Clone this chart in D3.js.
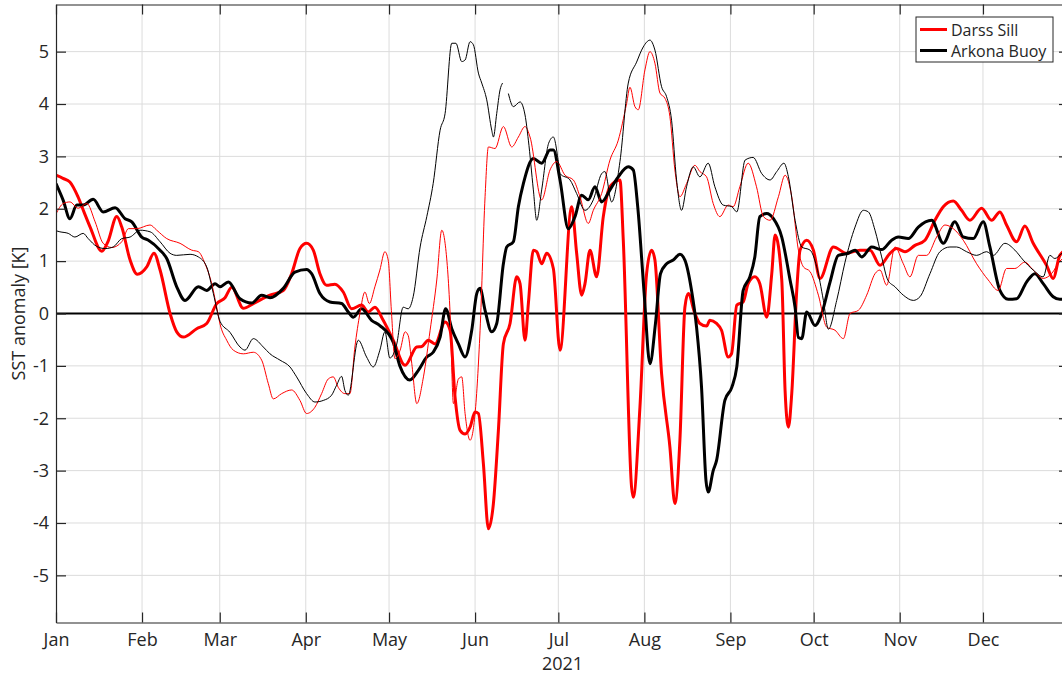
<!DOCTYPE html>
<html>
<head>
<meta charset="utf-8">
<script src="https://cdn.jsdelivr.net/npm/d3@7"></script>
<style>
  body { margin: 0; background: #fff; }
  svg { display: block; font-family: "Open Sans", sans-serif; }
</style>
</head>
<body>
<div class="d3"></div>
<script>
// [day of 2021, SST anomaly in K]
var darssSill = [[0,2.64],[2.5,2.58],[5,2.51],[7.9,2.23],[10,1.95],[12.3,1.65],[16.5,1.19],[18.7,1.37],[21.9,1.85],[23.7,1.65],[26.7,1.02],[29.3,0.75],[32.7,0.89],[35.3,1.15],[37.5,0.83],[41.1,0.0],[43.5,-0.35],[45.9,-0.45],[50.7,-0.29],[54.3,-0.19],[57.9,0.19],[60.9,0.30],[63.3,0.50],[67.5,0.10],[71.1,0.19],[77.1,0.35],[81.9,0.44],[84.9,0.76],[87.9,1.24],[90.3,1.34],[92.7,1.21],[95.1,0.76],[97.5,0.54],[100.5,0.56],[103.5,0.41],[106.5,0.09],[110.1,0.16],[112.5,0.03],[114.9,0.12],[117.9,-0.13],[121.5,-0.51],[125.8,-0.99],[130,-0.64],[131.8,-0.63],[134.1,-0.51],[136.6,-0.58],[140.2,-0.16],[142,-0.32],[143.8,-1.60],[145.6,-2.23],[147.4,-2.30],[149.2,-2.17],[151,-1.88],[152.2,-1.91],[154,-2.87],[155.8,-4.11],[157.6,-3.63],[159.4,-2.23],[161.2,-0.58],[163.6,-0.19],[166,0.70],[167.2,0.57],[169,-0.51],[170.2,0.19],[172,1.21],[173.2,1.18],[175,0.95],[176.8,1.15],[179.2,0.86],[181.6,-0.70],[185.8,2.04],[187.6,1.15],[189.4,0.35],[190.6,0.57],[192.4,1.21],[194.8,0.70],[197.2,1.85],[199.6,2.42],[203.2,2.55],[204.4,1.40],[207.4,-3.32],[208,-3.51],[210.4,-1.79],[212.8,0.76],[214.6,1.21],[215.8,1.02],[218.2,-1.15],[221.2,-2.55],[223,-3.63],[224.8,-2.42],[226.6,0.12],[227.8,0.38],[230.2,0.0],[232,-0.19],[234.4,-0.24],[235.6,-0.13],[238,-0.19],[239.8,-0.32],[242.2,-0.83],[243.4,-0.77],[245.3,0.16],[247.6,0.22],[249.4,0.57],[251.8,0.70],[253.6,0.57],[256.1,-0.07],[257.9,0.76],[259.1,1.50],[261.5,0.64],[262.7,-1.47],[263.9,-2.17],[265.1,-1.53],[266.9,0.44],[268.1,1.21],[270.5,1.40],[272.9,1.21],[275.3,0.67],[280.1,1.27],[284.9,1.15],[289.7,1.21],[293.3,1.21],[296.9,0.92],[300.5,1.15],[302.9,1.24],[305.9,1.18],[309.5,1.30],[313.1,1.40],[316.7,1.78],[319.7,2.04],[323.3,2.15],[326.3,1.97],[329.3,1.78],[333.5,2.01],[337.1,1.78],[340.1,1.94],[342.5,1.69],[346.1,1.37],[349.1,1.67],[352.1,1.34],[356.9,0.92],[359.3,0.67],[361.7,1.11],[365,1.25]];

var arkonaBuoy = [[0,2.48],[2.6,2.16],[5,1.81],[7.5,2.07],[9.8,2.07],[13.4,2.18],[17,1.94],[21.3,2.02],[24.9,1.81],[27.3,1.75],[30.9,1.46],[33.3,1.40],[37.5,1.21],[39.9,1.05],[43.5,0.51],[46.5,0.25],[51.3,0.51],[54.3,0.44],[57.3,0.57],[59.1,0.51],[62.1,0.60],[66.3,0.28],[70.5,0.20],[74.1,0.35],[77.1,0.30],[81.9,0.48],[86.1,0.79],[90.3,0.84],[92.1,0.76],[95.1,0.38],[98.7,0.22],[102.9,0.19],[105.3,0.03],[107.1,-0.07],[110.1,0.09],[113.7,-0.13],[116.7,-0.23],[121.5,-0.55],[123.9,-1.0],[127.5,-1.27],[130.5,-1.09],[133.6,-0.83],[135.9,-0.74],[138.4,-0.45],[140.4,0.09],[142.6,-0.29],[145,-0.58],[147.4,-0.83],[149.8,-0.32],[151.6,0.38],[152.8,0.48],[154.6,0.06],[157,-0.35],[158.8,-0.19],[161.2,0.95],[162.4,1.27],[164.8,1.37],[166.6,2.04],[168.4,2.48],[172,2.96],[175,2.87],[178,3.12],[179.2,3.12],[181.6,2.55],[184.6,1.62],[187,1.85],[189.4,2.26],[191.8,2.17],[194.2,2.42],[196.6,2.13],[199.6,2.36],[202.6,2.61],[206.2,2.80],[208,2.74],[209.6,2.04],[211.9,0.40],[214,-0.96],[216,-0.19],[217.8,0.76],[220,0.95],[222.4,1.02],[224.8,1.13],[226.6,1.02],[229,0.44],[230.8,-0.26],[232.6,-1.41],[234.2,-3.19],[235,-3.41],[236.8,-3.00],[238,-2.81],[241,-1.66],[243.5,-1.41],[245.3,-1.02],[247.6,0.44],[250,0.70],[251.8,1.08],[253.6,1.85],[256.1,1.91],[258.5,1.81],[261.5,1.46],[264.5,0.64],[266.3,0.12],[267.5,-0.46],[268.7,-0.48],[270.5,0.03],[273.5,-0.23],[275.9,0.0],[278.9,0.60],[281.9,1.11],[285.5,1.15],[287.9,1.21],[290.3,1.08],[293.9,1.27],[297.5,1.22],[301.1,1.40],[303.5,1.46],[307.1,1.43],[310.7,1.65],[315.5,1.78],[319.7,1.34],[323.9,1.75],[326.9,1.46],[330.5,1.43],[334.1,1.75],[336.5,1.27],[340.1,0.44],[343.1,0.27],[346.1,0.28],[349.7,0.60],[352.7,0.76],[355.7,0.57],[359.3,0.32],[361.7,0.27],[365,0.3]];

var darssThin = [[0,1.90],[2.6,2.10],[5,2.13],[8,2.01],[11.1,2.10],[14.1,1.75],[17,1.34],[20.1,1.26],[23.7,1.37],[26.1,1.62],[29.1,1.62],[33.9,1.69],[36.3,1.59],[39.9,1.43],[44.7,1.34],[48.9,1.21],[51.3,1.18],[53.7,0.95],[56.1,0.57],[57.9,0.12],[59.1,-0.2],[61.5,-0.51],[63.9,-0.70],[67.5,-0.77],[71.1,-0.74],[74.1,-0.89],[76.5,-1.34],[78.3,-1.63],[81.3,-1.53],[84.9,-1.46],[87.9,-1.66],[90.3,-1.91],[93.3,-1.79],[95.7,-1.53],[98.1,-1.25],[99.9,-1.21],[101.7,-1.41],[104.1,-1.53],[105.9,-1.53],[107.7,-0.64],[109.5,0.0],[111.3,0.41],[112.9,0.19],[114.9,0.51],[116.7,0.83],[118.5,1.18],[119.7,1.02],[120.9,0.0],[122.1,-0.86],[124,-0.70],[125.8,-0.35],[126.9,-0.42],[128.2,-0.96],[130,-1.72],[132.4,-1.21],[134.8,-0.32],[137.2,0.64],[139,1.59],[140.2,1.34],[142,0.0],[143.2,-1.72],[145,-1.25],[146.2,-1.21],[147.4,-1.91],[149.2,-2.42],[151,-1.91],[152.8,-0.32],[154.6,2.23],[155.8,3.18],[158.2,3.15],[161.2,3.57],[164.2,3.18],[166.6,3.37],[169,3.57],[170.8,3.37],[175,2.17],[178,2.74],[180.4,2.90],[183.4,2.64],[186.4,2.55],[188.8,2.23],[191.8,1.72],[193.6,1.97],[196.6,2.29],[199.6,2.93],[202.6,3.31],[205.6,4.01],[206.8,4.32],[208.6,3.95],[209.8,3.89],[212.2,4.65],[214,5.00],[215.8,4.78],[217.6,4.21],[219.4,4.11],[221.2,3.76],[223,2.74],[224.8,2.23],[227.2,2.48],[230.2,2.83],[232,2.71],[234.4,2.61],[236.8,2.10],[239.2,1.85],[242.2,2.07],[244,2.04],[246.4,2.42],[249.4,2.87],[252.4,2.42],[254.9,1.85],[257.3,1.78],[260.3,2.23],[262.7,2.64],[265.1,2.23],[267.5,1.21],[269.3,0.89],[271.7,0.80],[274.7,0.35],[277.7,-0.26],[280.7,-0.32],[283.7,-0.48],[286.1,0.0],[289.1,0.06],[292.1,0.35],[295.1,0.76],[296.9,0.83],[299.3,0.54],[302.3,1.27],[305.3,0.95],[307.7,0.70],[310.7,1.11],[313.7,1.11],[317.3,1.46],[320.3,1.69],[323.3,1.62],[326.9,1.40],[331.7,0.95],[335.9,0.64],[339.5,0.44],[342.5,0.86],[345.5,0.86],[349.1,0.98],[352.1,0.83],[355.7,0.67],[358.7,0.76],[361.7,1.0],[365,1.1]];

// null = missing data
var arkonaThin = [[0,1.58],[1.4,1.56],[4.4,1.53],[6.8,1.46],[9.8,1.53],[11.6,1.43],[14.7,1.28],[17.7,1.24],[20.6,1.27],[23.7,1.43],[26.7,1.46],[30.3,1.59],[33.9,1.56],[37.5,1.37],[41.1,1.15],[43.5,1.11],[48.3,1.13],[51.3,1.08],[54.3,0.89],[56.7,0.38],[59.1,-0.15],[62.7,-0.36],[66.3,-0.64],[68.1,-0.70],[71.1,-0.48],[74.7,-0.64],[77.1,-0.77],[80.7,-0.89],[84.3,-1.02],[86.7,-1.21],[90.3,-1.53],[93.3,-1.69],[96.3,-1.66],[99.3,-1.56],[101.1,-1.37],[102.9,-1.20],[104.1,-1.47],[105.3,-1.56],[108.9,-0.51],[111.9,-0.83],[114.3,-1.02],[116.7,-0.70],[118.5,-0.35],[120.3,-0.85],[122.7,-0.6],[125.1,0.12],[126.9,0.09],[128.7,0.32],[131.2,1.27],[133.6,1.85],[135.9,2.48],[138.4,3.50],[140.2,3.82],[142.6,5.16],[144.1,5.16],[146.2,4.81],[147.4,4.84],[149.2,5.19],[150.4,5.13],[152.2,4.59],[153.4,4.40],[155.2,4.08],[157,3.50],[157.6,3.37],[158.8,3.82],[160,4.27],[160.9,4.40],[162,null],[163,4.20],[164.8,3.95],[167.2,4.04],[169,3.79],[170.2,3.31],[172,2.36],[173.2,1.78],[175,2.36],[177.5,3.25],[179.2,3.37],[181,2.90],[181.6,2.67],[185.2,2.55],[187.6,2.29],[190.6,1.97],[193.6,2.17],[196.6,2.67],[197.8,2.71],[200.2,2.13],[203.2,2.90],[206.2,4.40],[209.2,4.80],[211.6,5.09],[214,5.22],[215.8,5.03],[218.2,4.33],[220,4.14],[221.8,3.69],[223.6,2.55],[225.4,1.97],[227.2,2.42],[229.6,2.80],[232,2.61],[235,2.87],[237.4,2.42],[240.4,2.07],[243.5,2.04],[245.3,1.94],[248.3,2.93],[251.2,2.98],[254.3,2.67],[257.3,2.55],[259.7,2.71],[262.3,2.87],[263.9,2.61],[266.3,1.78],[268.7,1.27],[271.7,1.21],[274.1,0.89],[276.5,0.25],[278.3,-0.30],[281.3,0.25],[284.3,0.98],[287.9,1.65],[290.9,1.97],[292.7,1.94],[295.1,1.59],[297.5,1.08],[299.7,0.64],[302.3,0.51],[305.3,0.35],[308.9,0.25],[311.3,0.32],[314.9,0.76],[318.5,1.18],[322.1,1.27],[324.5,1.27],[328.1,1.18],[331.7,1.11],[335.3,1.18],[337.7,1.11],[341.9,1.34],[345.5,1.21],[348.5,1.02],[352.1,0.83],[355.7,0.70],[358.1,1.11],[359.9,1.05],[362.5,1.15],[365,1.2]];

var yTicks = [-5, -4, -3, -2, -1, 0, 1, 2, 3, 4, 5];
var legendNames = ["Darss Sill", "Arkona Buoy"];
var yLabel = "SST anomaly [K]";
var xLabel = "2021";

var width = 1062, height = 674;
var plotLeft = 56, plotRight = 1069, plotTop = 4.5, plotBottom = 622.5;
var axisColor = "#262626";
var tickFont = "18px";

function toDate(day) { return new Date(Date.UTC(2021, 0, 1) + day * 864e5); }

var x = d3.scaleUtc()
    .domain([toDate(0), toDate(365)])
    .range([plotLeft, plotRight]);

var y = d3.scaleLinear()
    .domain([-5.9, 5.9])
    .range([plotBottom, plotTop]);

var months = d3.utcMonth.range(toDate(0), toDate(365));

var svg = d3.select(".d3").append("svg")
    .attr("width", width)
    .attr("height", height);

svg.append("defs").append("clipPath")
    .attr("id", "plot")
  .append("rect")
    .attr("x", plotLeft).attr("y", plotTop)
    .attr("width", plotRight - plotLeft).attr("height", plotBottom - plotTop);

// grid
var grid = svg.append("g").attr("stroke", "#dcdcdc").attr("stroke-width", 1);
grid.selectAll(".gx").data(months.slice(1)).enter().append("line")
    .attr("x1", function(d) { return x(d); }).attr("x2", function(d) { return x(d); })
    .attr("y1", plotTop).attr("y2", plotBottom);
grid.selectAll(".gy").data(yTicks).enter().append("line")
    .attr("x1", plotLeft).attr("x2", plotRight)
    .attr("y1", function(d) { return y(d); }).attr("y2", function(d) { return y(d); });

// zero line
svg.append("line")
    .attr("x1", plotLeft).attr("x2", plotRight)
    .attr("y1", y(0)).attr("y2", y(0))
    .attr("stroke", "#000").attr("stroke-width", 1.8);

var line = d3.line()
    .defined(function(d) { return d[1] !== null; })
    .x(function(d) { return x(toDate(d[0])); })
    .y(function(d) { return y(d[1]); })
    .curve(d3.curveMonotoneX);

var series = [
  {data: darssSill, color: "#ff0000", w: 3},
  {data: arkonaBuoy, color: "#000000", w: 3},
  {data: darssThin, color: "#ff0000", w: 1},
  {data: arkonaThin, color: "#000000", w: 1}
];

svg.append("g").attr("clip-path", "url(#plot)")
  .selectAll("path").data(series).enter().append("path")
    .attr("d", function(d) { return line(d.data); })
    .attr("fill", "none")
    .attr("stroke", function(d) { return d.color; })
    .attr("stroke-width", function(d) { return d.w; })
    .attr("stroke-linejoin", "round");

// axes, ticks pointing inward
function styleAxis(g) {
  g.selectAll("path, line").attr("stroke", axisColor).attr("stroke-width", 1.2);
  g.selectAll("text").attr("fill", axisColor).style("font-size", tickFont)
    .style("font-family", "'Open Sans', sans-serif");
}

svg.append("g")
    .attr("transform", "translate(0," + plotBottom + ")")
    .call(d3.axisBottom(x).tickValues(months).tickFormat(d3.utcFormat("%b"))
      .tickSizeInner(-10).tickSizeOuter(0).tickPadding(11))
    .call(styleAxis);

svg.append("g")
    .attr("transform", "translate(0," + plotTop + ")")
    .call(d3.axisTop(x).tickValues(months).tickFormat("")
      .tickSizeInner(-10).tickSizeOuter(0))
    .call(styleAxis);

svg.append("g")
    .attr("transform", "translate(" + plotLeft + ",0)")
    .call(d3.axisLeft(y).tickValues(yTicks).tickFormat(function(d) { return String(d); })
      .tickSizeInner(-10).tickSizeOuter(0).tickPadding(7))
    .call(styleAxis);

svg.append("g")
    .attr("transform", "translate(" + plotRight + ",0)")
    .call(d3.axisRight(y).tickValues(yTicks).tickFormat("")
      .tickSizeInner(-10).tickSizeOuter(0))
    .call(styleAxis);

svg.append("text")
    .attr("x", (plotLeft + plotRight) / 2).attr("y", 670)
    .attr("text-anchor", "middle")
    .attr("fill", axisColor).style("font-size", tickFont)
    .text(xLabel);

svg.append("text")
    .attr("transform", "translate(25," + ((plotTop + plotBottom) / 2) + ") rotate(-90)")
    .attr("text-anchor", "middle")
    .attr("fill", axisColor).style("font-size", tickFont)
    .text(yLabel);

// legend
var legend = svg.append("g");
legend.append("rect")
    .attr("x", 916).attr("y", 17).attr("width", 137).attr("height", 45)
    .attr("fill", "#fff").attr("stroke", axisColor).attr("stroke-width", 1);
var item = legend.selectAll(".item").data(legendNames).enter().append("g")
    .attr("transform", function(d, i) { return "translate(0," + (29.5 + i * 21) + ")"; });
item.append("line")
    .attr("x1", 920).attr("x2", 947)
    .attr("stroke", function(d, i) { return series[i].color; })
    .attr("stroke-width", 3);
item.append("text")
    .attr("x", 951).attr("y", 6)
    .attr("fill", axisColor).style("font-size", "16px")
    .text(function(d) { return d; });
</script>
</body>
</html>
